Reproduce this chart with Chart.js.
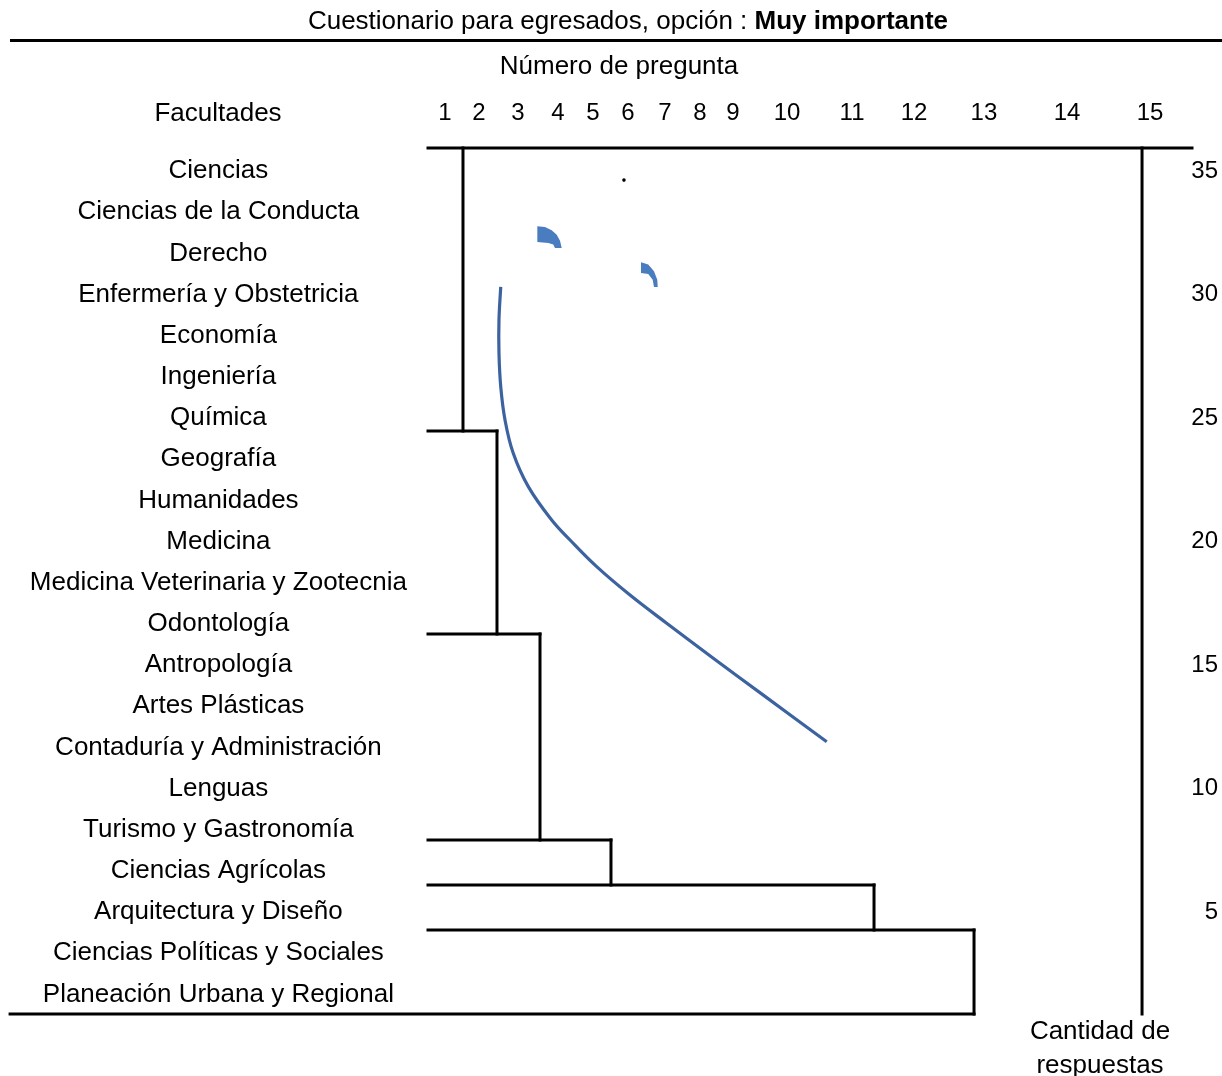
<!DOCTYPE html>
<html>
<head>
<meta charset="utf-8">
<script src="https://cdn.jsdelivr.net/npm/chart.js@4"></script>
<style>
  body { margin: 0; background: #fff; font-family: "Liberation Sans", Arial, sans-serif; }
  #wrap { position: relative; width: 1222px; height: 1076px; }
  canvas { position: absolute; left: 0; top: 0; }
  .txt { position: absolute; transform: translate(-50%, -50%); white-space: nowrap; font-size: 26px; color: #000; }
  .rule { position: absolute; left: 10px; top: 39px; width: 1212px; height: 3px; background: #000; }
</style>
</head>
<body>
<div id="wrap">
  <canvas id="chart" width="1222" height="1076"></canvas>
  <div class="txt" style="left:628px; top:20px;">Cuestionario para egresados, opción : <b>Muy importante</b></div>
  <div class="rule"></div>
  <div class="txt" style="left:619px; top:65px;">Número de pregunta</div>
  <div class="txt" style="left:218px; top:112px;">Facultades</div>
  <div class="txt" style="left:1100px; top:1030px;">Cantidad de</div>
  <div class="txt" style="left:1100px; top:1064px;">respuestas</div>
</div>
<script>
// Facultades (left labels), one row each, 5/3 of a unit apart
const facultades = [
    'Ciencias', 'Ciencias de la Conducta', 'Derecho', 'Enfermería y Obstetricia',
    'Economía', 'Ingeniería', 'Química', 'Geografía', 'Humanidades', 'Medicina',
    'Medicina Veterinaria y Zootecnia', 'Odontología', 'Antropología', 'Artes Plásticas',
    'Contaduría y Administración', 'Lenguas', 'Turismo y Gastronomía', 'Ciencias Agrícolas',
    'Arquitectura y Diseño', 'Ciencias Políticas y Sociales', 'Planeación Urbana y Regional'
];
const filaPaso = 5 / 3;

// Question numbers and where they sit on the x axis (0-100)
const preguntas = ['1', '2', '3', '4', '5', '6', '7', '8', '9', '10', '11', '12', '13', '14', '15'];
const preguntaPos = [2.23, 6.68, 11.78, 17.02, 21.6, 26.18, 31.02, 35.6, 39.92, 46.99, 55.5, 63.61, 72.77, 83.64, 94.5];

// Right axis: cantidad de respuestas
const respuestas = [5, 10, 15, 20, 25, 30, 35];

// Dendrogram: merge positions (x) and levels (y)
const corteX = [4.58, 9.03, 14.66, 23.95, 58.38, 71.47];
const corteY = [35.85, 24.39, 16.17, 7.83, 6.01, 4.19, 0.79];
const totalX = 93.46;
const baseIzq = -54.7;

// Blue curve
const curvaX = [9.52, 9.29, 9.29, 9.52, 10.08, 11.16, 13.13, 16.19, 18.59, 22.08, 26.44, 31.24, 37.34, 43.89, 52.19];
const curvaY = [30.23, 28.89, 27.55, 26.19, 24.84, 23.49, 22.14, 20.79, 19.98, 18.9, 17.75, 16.61, 15.19, 13.7, 11.81];

// Two small arc shapes (outer edge then inner edge back) and a dot
const arco1X = [14.31, 15.31, 16.19, 16.85, 17.28, 17.5, 16.62, 16.4, 15.75, 14.31];
const arco1Y = [32.68, 32.65, 32.52, 32.34, 32.1, 31.8, 31.8, 31.94, 32.0, 32.04];
const arco2X = [27.88, 28.83, 29.58, 30.01, 30.07, 29.58, 29.41, 28.83, 27.88];
const arco2Y = [31.22, 31.13, 30.86, 30.52, 30.22, 30.22, 30.52, 30.75, 30.79];
const puntoX = [25.65];
const puntoY = [34.55];

const toPts = (xs, ys) => xs.map((x, i) => ({ x: x, y: ys[i] }));

// build the black dendrogram segments
const segs = [];
segs.push([[0, corteY[0]], [100, corteY[0]]]);
for (let i = 0; i < corteX.length; i++) {
    segs.push([[corteX[i], corteY[i]], [corteX[i], corteY[i + 1]]]);
}
for (let i = 1; i < corteX.length; i++) {
    segs.push([[0, corteY[i]], [corteX[i], corteY[i]]]);
}
segs.push([[baseIzq, corteY[6]], [corteX[5], corteY[6]]]);
segs.push([[totalX, corteY[0]], [totalX, corteY[6]]]);

const datasets = segs.map(s => ({
    type: 'line',
    data: s.map(p => ({ x: p[0], y: p[1] })),
    borderColor: '#000',
    borderWidth: 3,
    borderCapStyle: 'square',
    pointRadius: 0,
    clip: false
}));

datasets.push({
    type: 'line',
    data: toPts(curvaX, curvaY),
    borderColor: '#3c63a0',
    borderWidth: 3.2,
    tension: 0.4,
    pointRadius: 0
});
[[arco1X, arco1Y], [arco2X, arco2Y]].forEach(a => {
    datasets.push({
        type: 'line',
        data: toPts(a[0], a[1]),
        borderWidth: 0,
        backgroundColor: '#4a7cc0',
        fill: 'shape',
        tension: 0,
        pointRadius: 0
    });
});
datasets.push({
    type: 'scatter',
    data: toPts(puntoX, puntoY),
    backgroundColor: '#000',
    borderWidth: 0,
    pointRadius: 1.8
});

const font = { family: '"Liberation Sans", Arial, sans-serif', size: 26 };
const numFont = { family: '"Liberation Sans", Arial, sans-serif', size: 24 };

const ctx = document.getElementById('chart').getContext('2d');
new Chart(ctx, {
    data: { datasets: datasets },
    options: {
        responsive: false,
        animation: false,
        layout: { padding: { top: 0, bottom: 62, left: 0, right: 4 } },
        plugins: { legend: { display: false }, tooltip: { enabled: false } },
        scales: {
            x: {
                type: 'linear',
                position: 'top',
                min: 0,
                max: 100,
                grid: { display: false, drawTicks: false },
                border: { display: false },
                afterBuildTicks: s => { s.ticks = preguntaPos.map(v => ({ value: v })); },
                afterFit: s => { s.height = 148; },
                ticks: {
                    autoSkip: false,
                    maxRotation: 0,
                    padding: 20,
                    color: '#000',
                    font: numFont,
                    callback: (v, i) => preguntas[i]
                }
            },
            y: {
                type: 'linear',
                position: 'right',
                min: corteY[6],
                max: corteY[0],
                grid: { display: false, drawTicks: false },
                border: { display: false },
                afterBuildTicks: s => { s.ticks = respuestas.map(v => ({ value: v })); },
                afterFit: s => { s.width = 26; },
                ticks: { padding: 0, labelOffset: 2, crossAlign: 'far', color: '#000', font: numFont }
            },
            yL: {
                type: 'linear',
                position: 'left',
                min: corteY[6],
                max: corteY[0],
                grid: { display: false, drawTicks: false },
                border: { display: false },
                afterBuildTicks: s => { s.ticks = facultades.map((f, i) => ({ value: 35 - i * filaPaso })); },
                afterFit: s => { s.width = 428; },
                ticks: {
                    autoSkip: false,
                    padding: 21,
                    labelOffset: 2,
                    crossAlign: 'center',
                    color: '#000',
                    font: font,
                    callback: (v, i) => facultades[i]
                }
            }
        }
    }
});
</script>
</body>
</html>
